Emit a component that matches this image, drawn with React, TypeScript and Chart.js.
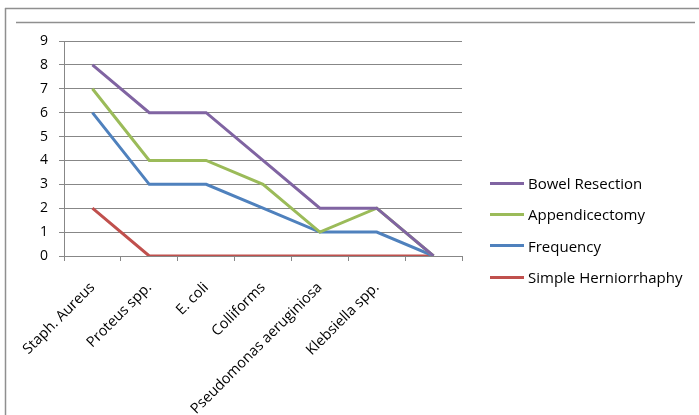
import React, { useEffect, useRef } from "react";
import { Chart, registerables } from "chart.js";

Chart.register(...registerables);

const categories: string[] = [
  "Staph. Aureus",
  "Proteus spp.",
  "E. coli",
  "Colliforms",
  "Pseudomonas aeruginiosa",
  "Klebsiella spp.",
  "",
];

const bowelResection: number[] = [8, 6, 6, 4, 2, 2, 0];
const appendicectomy: number[] = [7, 4, 4, 3, 1, 2, 0];
const frequency: number[] = [6, 3, 3, 2, 1, 1, 0];
const simpleHerniorrhaphy: number[] = [2, 0, 0, 0, 0, 0, 0];

const seriesNames: string[] = [
  "Bowel Resection",
  "Appendicectomy",
  "Frequency",
  "Simple Herniorrhaphy",
];
const seriesColors: string[] = ["#8064A2", "#9BBB59", "#4F81BD", "#C0504D"];

const yMin = 0;
const yMax = 9;
const yStep = 1;

const FONT = "'Open Sans', sans-serif";
const FONT_SIZE = 14;
const X_FONT_SIZE = 14.5;
const LEGEND_FONT_SIZE = 15;
const GRID = "#878787";

const W = 699;
const H = 415;
const PLOT_LEFT = 64;
const PLOT_RIGHT = 462;
const PLOT_TOP = 41;
const PLOT_BOTTOM = 256;

const framePlugin = {
  id: "frame",
  beforeDraw(chart: any) {
    const ctx = chart.ctx;
    ctx.save();
    ctx.strokeStyle = "#8f8f8f";
    ctx.lineWidth = 1.5;
    ctx.beginPath();
    ctx.moveTo(5, 8.5);
    ctx.lineTo(699, 8.5);
    ctx.moveTo(5.5, 8);
    ctx.lineTo(5.5, 415);
    ctx.moveTo(16, 22.5);
    ctx.lineTo(695, 22.5);
    ctx.stroke();
    ctx.restore();
  },
};

export default function App() {
  const ref = useRef<HTMLCanvasElement | null>(null);

  useEffect(() => {
    document.body.style.margin = "0";
    document.body.style.overflow = "hidden";
    const canvas = ref.current;
    if (!canvas) return;

    const data = [bowelResection, appendicectomy, frequency, simpleHerniorrhaphy];
    const chart = new Chart(canvas, {
      type: "line",
      data: {
        labels: categories,
        datasets: data.map((values, i) => ({
          label: seriesNames[i],
          data: values,
          borderColor: seriesColors[i],
          backgroundColor: seriesColors[i],
          borderWidth: 3,
          pointRadius: 0,
          pointHoverRadius: 0,
          tension: 0,
          fill: false,
        })),
      },
      options: {
        animation: false,
        responsive: false,
        maintainAspectRatio: false,
        layout: { padding: { top: PLOT_TOP, left: 0, right: W - PLOT_RIGHT, bottom: 0 } },
        plugins: {
          tooltip: { enabled: false },
          legend: { display: false },
        },
        scales: {
          x: {
            type: "category",
            offset: true,
            afterFit: (s: any) => {
              s.height = H - PLOT_BOTTOM;
            },
            grid: {
              display: true,
              drawOnChartArea: false,
              drawTicks: true,
              tickLength: 5,
              offset: true,
              color: GRID,
            },
            border: { display: true, color: GRID, width: 1 },
            ticks: {
              autoSkip: false,
              minRotation: 45,
              maxRotation: 45,
              padding: 18,
              color: "#000000",
              font: { family: FONT, size: X_FONT_SIZE },
            },
          },
          y: {
            type: "linear",
            min: yMin,
            max: yMax,
            afterFit: (s: any) => {
              s.width = PLOT_LEFT;
            },
            grid: { color: GRID, drawTicks: true, tickLength: 5 },
            border: { display: true, color: GRID, width: 1 },
            ticks: {
              stepSize: yStep,
              padding: 11,
              color: "#000000",
              font: { family: FONT, size: FONT_SIZE },
            },
          },
        },
      },
      plugins: [framePlugin],
    });
    return () => chart.destroy();
  }, []);

  return (
    <div style={{ width: W, height: H, position: "relative", background: "#ffffff", overflow: "hidden" }}>
      <canvas ref={ref} width={W} height={H} style={{ display: "block", width: W, height: H }} />
      <div
        style={{
          position: "absolute",
          left: 490,
          top: 167.5,
          fontFamily: FONT,
          fontSize: LEGEND_FONT_SIZE,
          color: "#000000",
        }}
      >
        {seriesNames.map((name, i) => (
          <div
            key={name}
            style={{ display: "flex", alignItems: "center", height: 31.3, whiteSpace: "nowrap" }}
          >
            <span
              style={{
                display: "inline-block",
                width: 34,
                height: 3,
                background: seriesColors[i],
                marginRight: 4,
              }}
            />
            <span>{name}</span>
          </div>
        ))}
      </div>
    </div>
  );
}
